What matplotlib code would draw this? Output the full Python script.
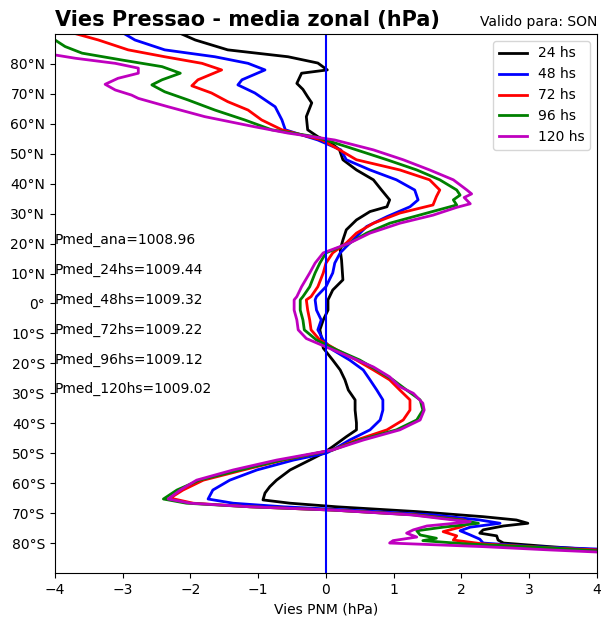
import numpy as np
import matplotlib
matplotlib.use('Agg')
import matplotlib.pyplot as plt

# Vies de pressao media zonal por latitude
lat_24 = [90, 88, 84.7, 82.4, 80.3, 78, 76.9, 73.5, 71.5, 69, 67, 62.4, 58, 55.7, 53.5,
          51.3, 48, 44.6, 41.3, 37.9, 34.6, 32.3, 30.7, 27.9, 24.6, 21.2, 17.9, 14.5,
          7.9, 4.5, 1.2, -2.2, -5.5, -8.8, -12.2, -14.9, -18.9, -22.2, -25.5, -28.9,
          -32.2, -35.6, -39.9, -42.2, -44.5, -47.8, -50, -52.3, -55.6, -59, -61.2,
          -63.3, -65.6, -66.7, -67.9, -69.5, -71.2, -72.3, -73.4, -74.3, -75.6, -76.7,
          -77.6, -79, -80, -81.2, -82.3, -86, -90]
v_24 = [-2.13, -1.93, -1.45, -0.56, -0.12, 0.02, -0.36, -0.43, -0.34, -0.27, -0.21,
        -0.29, -0.27, -0.12, 0.08, 0.2, 0.25, 0.45, 0.7, 0.82, 0.94, 0.9, 0.65, 0.45,
        0.3, 0.25, 0.21, 0.23, 0.25, 0.1, 0.03, 0.03, -0.04, -0.09, -0.06, -0.04, 0.1,
        0.21, 0.28, 0.33, 0.43, 0.43, 0.45, 0.45, 0.3, 0.1, -0.04, -0.24, -0.53, -0.73,
        -0.83, -0.9, -0.93, -0.53, 0.16, 1.34, 2.32, 2.81, 2.98, 2.62, 2.32, 2.27, 2.52,
        2.54, 2.62, 3.3, 4.0, 5.5, 6.0]

lat_48 = [90, 88, 84.7, 82.4, 80.2, 78, 74.7, 73, 70.3, 65.7, 61.3, 58, 54.6, 51.3,
          48, 44.6, 41.3, 37.9, 34.6, 32.3, 29, 25.7, 22.3, 19, 16.9, 13.5, 10.2, 5.6,
          2.3, 1.2, -2.2, -5.5, -8.8, -12.2, -15.5, -18.9, -22.2, -25.5, -28.9, -32.2,
          -35.6, -38.9, -42.2, -45.6, -48.9, -50, -52.3, -55.6, -59, -62.3, -65.3,
          -66.7, -67.9, -69, -70.6, -72.3, -73.4, -74.7, -75.9, -77.3, -78.7, -80,
          -81.2, -82, -86, -90]
v_48 = [-2.97, -2.82, -2.38, -1.64, -1.15, -0.9, -1.24, -1.3, -1.05, -0.75, -0.65,
        -0.6, -0.12, 0.22, 0.3, 0.65, 1.04, 1.31, 1.36, 1.24, 0.9, 0.6, 0.45, 0.3,
        0.21, 0.13, 0.1, 0.0, -0.14, -0.16, -0.14, -0.07, -0.12, -0.04, 0.1, 0.35,
        0.55, 0.65, 0.75, 0.84, 0.84, 0.8, 0.65, 0.35, 0.1, 0.0, -0.48, -1.02, -1.42,
        -1.67, -1.74, -1.37, -0.63, 0.35, 1.58, 2.27, 2.57, 2.13, 1.98, 2.13, 2.27,
        2.32, 3.06, 4.0, 5.5, 6.0]

lat_72 = [90, 88, 84.7, 82.4, 80.2, 78, 74.7, 72.7, 70.3, 67.4, 64.6, 61.3, 58, 54.6,
          51.3, 48, 44.6, 41.3, 37.9, 35.7, 32.9, 30.2, 26.8, 23.5, 20.2, 16.9, 13.5,
          10.2, 5.6, 2.3, 1.2, -2.2, -5.5, -8.8, -12.2, -15.5, -18.9, -22.2, -25.5,
          -28.9, -32.2, -35.6, -38.9, -42.2, -45.6, -48.9, -52.3, -55.6, -59, -62.3,
          -65, -66.7, -67.9, -69, -70.6, -72.3, -73.4, -74.7, -76.2, -77.6, -79,
          -80.3, -81.6, -82.3, -86, -90]
v_72 = [-3.68, -3.36, -2.92, -2.38, -1.83, -1.54, -1.89, -1.98, -1.69, -1.45, -1.15,
        -0.95, -0.65, -0.06, 0.2, 0.45, 1.09, 1.53, 1.68, 1.63, 1.58, 1.09, 0.7, 0.45,
        0.3, 0.1, 0.0, -0.04, -0.12, -0.22, -0.29, -0.27, -0.24, -0.22, -0.09, 0.16,
        0.45, 0.7, 0.94, 1.09, 1.24, 1.24, 1.14, 0.9, 0.45, 0.1, -0.63, -1.22, -1.81,
        -2.11, -2.3, -1.96, -1.12, 0.1, 1.34, 2.03, 2.13, 1.98, 1.73, 1.93, 1.88, 2.32,
        3.3, 4.0, 5.5, 6.0]

lat_96 = [90, 88, 85.8, 83.6, 81.3, 79.1, 76.9, 74.7, 73, 70.7, 68, 64.6, 61.3, 58,
          55.7, 52.4, 51.3, 48, 44.6, 41.3, 37.9, 36.2, 34.6, 32.9, 30.2, 26.8, 23.5,
          20.2, 16.9, 13.5, 10.2, 5.6, 2.3, 1.2, -2.2, -5.5, -8.8, -12.2, -15.5, -18.9,
          -22.2, -25.5, -28.9, -32.2, -35.6, -38.9, -42.2, -45.6, -48.9, -52.3, -55.6,
          -59, -62.3, -65.3, -66.7, -67.9, -69, -70.6, -72.3, -73.4, -74.7, -75.9,
          -77.3, -78.4, -79.2, -80.3, -81.6, -82.6, -86, -90]
v_96 = [-4.3, -4.0, -3.85, -3.6, -3.01, -2.42, -2.15, -2.42, -2.57, -2.38, -2.04,
        -1.64, -1.2, -0.8, -0.16, 0.3, 0.45, 0.9, 1.34, 1.68, 1.93, 1.98, 1.88, 1.93,
        1.49, 0.94, 0.6, 0.35, 0.0, -0.09, -0.16, -0.24, -0.34, -0.38, -0.38, -0.34,
        -0.32, -0.14, 0.16, 0.5, 0.75, 0.99, 1.19, 1.39, 1.43, 1.34, 1.04, 0.5, 0.1,
        -0.65, -1.27, -1.87, -2.2, -2.4, -2.06, -1.12, 0.1, 1.3, 1.98, 2.25, 1.73,
        1.34, 1.39, 1.63, 1.43, 2.08, 3.3, 4.0, 5.5, 6.0]

lat_120 = [90, 85, 83, 81.9, 80.2, 78.6, 76.9, 75.2, 73.2, 71.3, 69.6, 68.5, 65.7,
           62.4, 59, 56.9, 54.6, 51.3, 48, 44.6, 41.3, 37.9, 36.6, 35.4, 33.3, 32.1,
           29.5, 26.8, 23.5, 20.2, 16.9, 13.5, 10.2, 5.6, 2.3, 1.2, -2.2, -5.5, -8.8,
           -11.7, -14.5, -17.8, -21.2, -24.5, -27.8, -30, -33.3, -35.6, -38.9, -42.2,
           -45.6, -48.9, -52.3, -55.6, -59, -62.3, -65.3, -66.7, -67.9, -69, -70.6,
           -72.3, -72.9, -74.3, -75.6, -76.7, -78, -79.2, -80, -81.2, -82.3, -83,
           -86, -90]
v_120 = [-4.4, -4.2, -4.0, -3.7, -3.11, -2.77, -2.77, -3.07, -3.26, -3.11, -2.87,
         -2.77, -2.33, -1.79, -1.05, -0.56, 0.13, 0.7, 1.14, 1.53, 1.88, 2.08, 2.15,
         2.04, 2.13, 1.93, 1.58, 1.09, 0.65, 0.35, -0.04, -0.16, -0.24, -0.36, -0.43,
         -0.47, -0.47, -0.43, -0.41, -0.29, 0.0, 0.35, 0.7, 0.94, 1.09, 1.29, 1.43,
         1.45, 1.39, 1.09, 0.55, 0.1, -0.73, -1.37, -1.91, -2.15, -2.33, -2.0, -1.12,
         0.1, 1.26, 1.88, 2.13, 1.49, 1.29, 1.19, 1.34, 0.99, 0.94, 2.32, 3.3, 4.0,
         5.5, 6.0]

series = [
    (v_24, lat_24, 'k', '24 hs'),
    (v_48, lat_48, 'b', '48 hs'),
    (v_72, lat_72, 'r', '72 hs'),
    (v_96, lat_96, 'g', '96 hs'),
    (v_120, lat_120, 'm', '120 hs'),
]

pmed_labels = ['Pmed_ana=1008.96', 'Pmed_24hs=1009.44', 'Pmed_48hs=1009.32',
               'Pmed_72hs=1009.22', 'Pmed_96hs=1009.12', 'Pmed_120hs=1009.02']
pmed_lat = [20, 10, 0, -10, -20, -30]

lat_ticks = list(range(-80, 90, 10))


def lat_label(v):
    if v > 0:
        return f'{v}°N'
    if v < 0:
        return f'{-v}°S'
    return '0°'


fig = plt.figure(figsize=(6.11, 6.26), dpi=100)
ax = fig.add_axes([0.09, 0.0847, 0.887, 0.861])

for vals, lats, cor, nome in series:
    ax.plot(vals, lats, color=cor, lw=2, label=nome)

ax.axvline(0, color='b', lw=1.5)

for txt, la in zip(pmed_labels, pmed_lat):
    ax.text(-4, la, txt, fontsize=10)

ax.set_xlim(-4, 4)
ax.set_ylim(-90, 90)
ax.set_yticks(lat_ticks)
ax.set_yticklabels([lat_label(v) for v in lat_ticks])
ax.set_xlabel('Vies PNM (hPa)')
ax.set_title('Vies Pressao - media zonal (hPa)', loc='left', fontsize=15, fontweight='bold')
ax.set_title('Valido para: SON', loc='right', fontsize=10)
ax.legend(loc='upper right')

fig.savefig('out.png', dpi=100)
